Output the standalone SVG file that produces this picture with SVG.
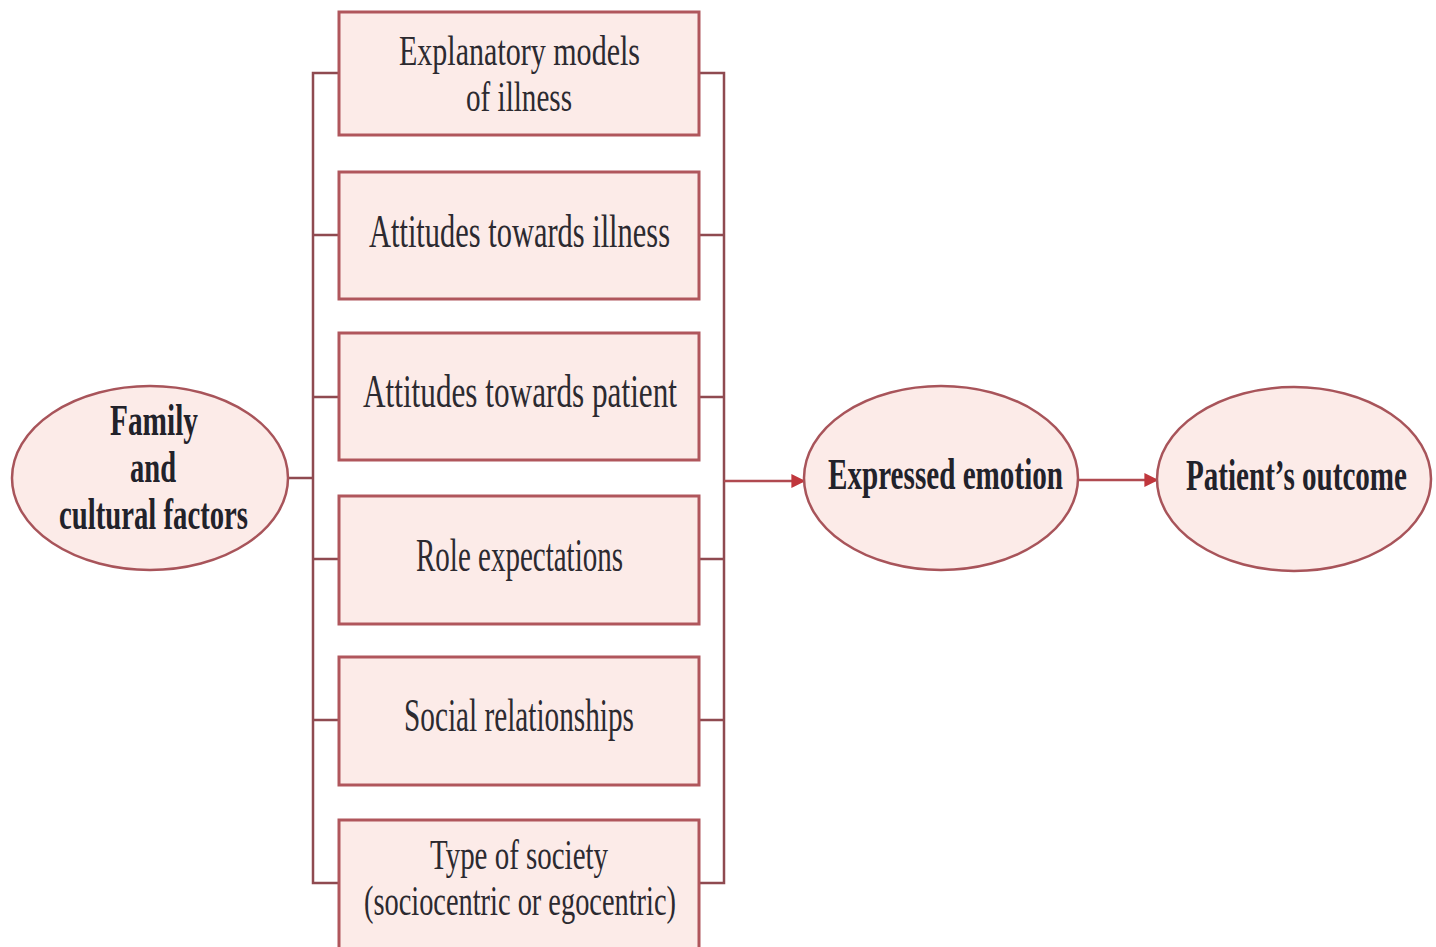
<svg xmlns="http://www.w3.org/2000/svg" width="1436" height="947" viewBox="0 0 1436 947">
  <style>
    .box { fill: #fcebe8; stroke: #b0565c; stroke-width: 3; }
    .oval { fill: #fcebe8; stroke: #a8545a; stroke-width: 2.5; }
    .wire { fill: none; stroke: #8f4a50; stroke-width: 2.5; }
    .arrow { fill: none; stroke: #b04a50; stroke-width: 2.5; }
    .lbl { font-family: "Liberation Serif", "DejaVu Serif", serif; font-size: 46px; fill: #2c2a30; }
    .lbl2 { font-family: "Liberation Serif", "DejaVu Serif", serif; font-size: 42px; fill: #2c2a30; }
    .lblb { font-family: "Liberation Serif", "DejaVu Serif", serif; font-size: 44px; font-weight: bold; fill: #22222a; }
  </style>
  <defs>
    <marker id="head" viewBox="0 0 10 10" refX="9" refY="5" markerWidth="14" markerHeight="14" orient="auto" markerUnits="userSpaceOnUse">
      <path d="M0,0 L10,5 L0,10 Z" fill="#c0363c"/>
    </marker>
  </defs>
  <rect width="1436" height="947" fill="#ffffff"/>

  <!-- connectors: left and right buses joining the six factor boxes -->
  <g id="connectors">
    <path class="wire" d="M339,73 H313 V883 H339"/>
    <path class="wire" d="M313,235 H339 M313,397 H339 M313,559 H339 M313,720 H339 M288,478 H313"/>
    <path class="wire" d="M699,73 H724 V883 H699"/>
    <path class="wire" d="M699,235 H724 M699,397 H724 M699,559 H724 M699,720 H724"/>
    <line class="arrow" x1="724" y1="481" x2="804" y2="481" marker-end="url(#head)"/>
    <line class="arrow" x1="1079" y1="480" x2="1157" y2="480" marker-end="url(#head)"/>
  </g>

  <g id="family">
    <ellipse class="oval" cx="150" cy="478" rx="138" ry="92"/>
    <text class="lblb" x="110" y="435" textLength="88" lengthAdjust="spacingAndGlyphs">Family</text>
    <text class="lblb" x="130" y="482" textLength="46" lengthAdjust="spacingAndGlyphs">and</text>
    <text class="lblb" x="59" y="529" textLength="189" lengthAdjust="spacingAndGlyphs">cultural factors</text>
  </g>

  <g id="explanatory">
    <rect class="box" x="339" y="12" width="360" height="123"/>
    <text class="lbl2" x="399" y="65" textLength="241" lengthAdjust="spacingAndGlyphs">Explanatory models</text>
    <text class="lbl2" x="466" y="111" textLength="106" lengthAdjust="spacingAndGlyphs">of illness</text>
  </g>

  <g id="attitudes-illness">
    <rect class="box" x="339" y="172" width="360" height="127"/>
    <text class="lbl" x="369" y="247" textLength="301" lengthAdjust="spacingAndGlyphs">Attitudes towards illness</text>
  </g>

  <g id="attitudes-patient">
    <rect class="box" x="339" y="333" width="360" height="127"/>
    <text class="lbl" x="363" y="407" textLength="314" lengthAdjust="spacingAndGlyphs">Attitudes towards patient</text>
  </g>

  <g id="role">
    <rect class="box" x="339" y="496" width="360" height="128"/>
    <text class="lbl" x="416" y="571" textLength="207" lengthAdjust="spacingAndGlyphs">Role expectations</text>
  </g>

  <g id="social">
    <rect class="box" x="339" y="657" width="360" height="128"/>
    <text class="lbl" x="404" y="731" textLength="230" lengthAdjust="spacingAndGlyphs">Social relationships</text>
  </g>

  <g id="society">
    <rect class="box" x="339" y="820" width="360" height="130"/>
    <text class="lbl2" x="430" y="869" textLength="178" lengthAdjust="spacingAndGlyphs">Type of society</text>
    <text class="lbl2" x="364" y="915" textLength="312" lengthAdjust="spacingAndGlyphs">(sociocentric or egocentric)</text>
  </g>

  <g id="expressed">
    <ellipse class="oval" cx="941" cy="478" rx="137" ry="92"/>
    <text class="lblb" x="828" y="489" textLength="235" lengthAdjust="spacingAndGlyphs">Expressed emotion</text>
  </g>

  <g id="outcome">
    <ellipse class="oval" cx="1294" cy="479" rx="137" ry="92"/>
    <text class="lblb" x="1186" y="490" textLength="221" lengthAdjust="spacingAndGlyphs">Patient’s outcome</text>
  </g>
</svg>
